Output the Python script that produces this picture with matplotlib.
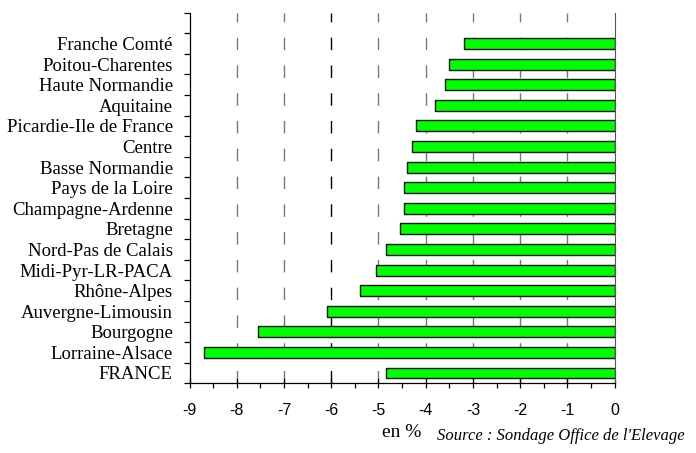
import matplotlib.pyplot as plt
import numpy as np

# Regions, from top to bottom as shown in the chart
regions = ["Franche Comté", "Poitou-Charentes", "Haute Normandie", "Aquitaine",
           "Picardie-Ile de France", "Centre", "Basse Normandie", "Pays de la Loire",
           "Champagne-Ardenne", "Bretagne", "Nord-Pas de Calais", "Midi-Pyr-LR-PACA",
           "Rhône-Alpes", "Auvergne-Limousin", "Bourgogne", "Lorraine-Alsace", "FRANCE"]
values = [-3.2, -3.5, -3.6, -3.8, -4.2, -4.3, -4.4, -4.45, -4.45, -4.55,
          -4.85, -5.05, -5.4, -6.1, -7.55, -8.7, -4.85]
xticks = [-9, -8, -7, -6, -5, -4, -3, -2, -1, 0]

fig = plt.figure(figsize=(6.96, 4.53), dpi=100)
ax = fig.add_axes([0.2723, 0.1539, 0.6109, 0.8181])

# positions: FRANCE at bottom (0), top slot left empty
pos = np.arange(len(regions))[::-1]
ax.barh(pos, values, height=0.53, color="#00ff00", edgecolor="#111111",
        linewidth=1.0, zorder=3)

# dashed vertical grid lines
for x in xticks[1:-1]:
    c = "black" if x == -6 else "#777777"
    ax.axvline(x, color=c, linewidth=1.0, linestyle=(0, (9, 11)), zorder=1)

ax.set_xlim(-9, 0)
ax.set_ylim(-0.5, len(regions) + 0.5)

ax.set_xticks(xticks)
ax.set_xticklabels([str(t) for t in xticks], family="Liberation Sans", fontsize=11.5)
ax.set_xticks(np.arange(-8.5, 0, 1.0), minor=True)
ax.tick_params(axis="x", which="major", direction="inout", length=7, width=0.9, pad=11)
ax.tick_params(axis="x", which="minor", direction="out", length=3.5, width=0.9)

# labels at bar centres, tick marks at slot boundaries
ax.set_yticks(pos)
ax.set_yticklabels(regions, family="Liberation Serif", fontsize=13.5)
ax.set_yticks(np.arange(-0.5, len(regions) + 1, 1.0), minor=True)
ax.tick_params(axis="y", which="major", length=0, pad=12)
ax.tick_params(axis="y", which="minor", direction="out", length=4, width=0.9)

ax.spines["top"].set_visible(False)
ax.spines["right"].set_color("#555555")
ax.spines["left"].set_linewidth(0.9)
ax.spines["bottom"].set_linewidth(0.9)

ax.set_xlabel("en %", family="Liberation Serif", fontsize=14, labelpad=4)
fig.text(0.984, 0.028, "Source : Sondage Office de l'Elevage", ha="right",
         family="Liberation Serif", style="italic", fontsize=12)

fig.savefig("out.png", dpi=100)
